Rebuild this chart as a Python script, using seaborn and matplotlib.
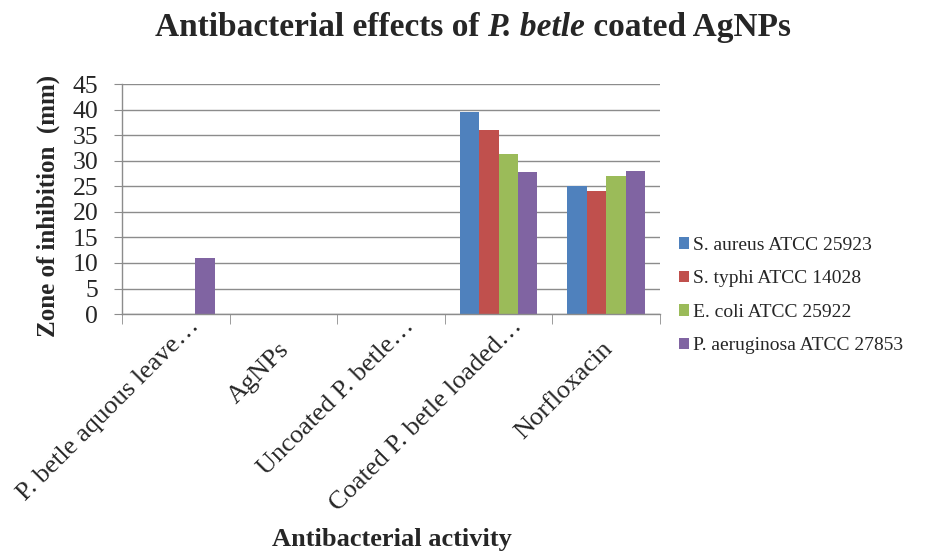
import matplotlib
matplotlib.use("Agg")
import matplotlib.pyplot as plt
import matplotlib.transforms as mtransforms
import seaborn as sns
import pandas as pd
import numpy as np
from matplotlib.ticker import MultipleLocator, FixedLocator

# data
categories = ["P. betle aquous leave\u2026", "AgNPs", "Uncoated P. betle\u2026",
              "Coated P. betle loaded\u2026", "Norfloxacin"]
s_aureus = [0, 0, 0, 39.6, 25.0]
s_typhi = [0, 0, 0, 36.1, 24.0]
e_coli = [0, 0, 0, 31.3, 27.0]
p_aeruginosa = [11.0, 0, 0, 27.8, 28.0]
series_names = ["S. aureus ATCC 25923", "S. typhi ATCC 14028",
                "E. coli ATCC 25922", "P. aeruginosa ATCC 27853"]
colors = ["#4F81BD", "#C0504D", "#9BBB59", "#8064A2"]

df = pd.DataFrame({"category": categories,
                   series_names[0]: s_aureus,
                   series_names[1]: s_typhi,
                   series_names[2]: e_coli,
                   series_names[3]: p_aeruginosa})
long_df = df.melt(id_vars="category", var_name="strain", value_name="zone")

sns.set_style("white")
plt.rcParams["font.family"] = ["Liberation Serif", "DejaVu Serif"]

fig = plt.figure(figsize=(9.34, 5.51), dpi=100)
ax = fig.add_axes([0.1306, 0.430, 0.576, 0.4175])

sns.barplot(data=long_df, x="category", y="zone", hue="strain",
            hue_order=series_names, palette=colors, width=0.72,
            saturation=1, ax=ax, linewidth=0)

ax.set_ylim(0, 45)
ax.set_xlim(-0.5, len(categories) - 0.5)
ax.yaxis.set_major_locator(MultipleLocator(5))
ax.grid(axis="y", color="#8c8c8c", linewidth=1)
ax.set_axisbelow(True)
for side in ["top", "right"]:
    ax.spines[side].set_visible(False)
for side in ["left", "bottom"]:
    ax.spines[side].set_color("#8c8c8c")
    ax.spines[side].set_linewidth(1)

ax.tick_params(axis="y", left=True, length=6, color="#8c8c8c", labelsize=18.5, pad=11)
ax.xaxis.set_minor_locator(FixedLocator(np.arange(-0.5, len(categories), 1)))
ax.tick_params(axis="x", which="minor", bottom=True, length=7, color="#8c8c8c")
ax.tick_params(axis="x", which="major", bottom=False, length=0, labelsize=19, pad=0)
ax.set_xticks(range(len(categories)))
ax.set_xticklabels(categories, rotation=45, ha="right", va="top",
                   rotation_mode="anchor")
# excel pushes the truncated (long) labels further up-right than the short ones
for lbl in ax.get_xticklabels():
    if lbl.get_text().endswith("\u2026"):
        dx, dy = 12, -1
    else:
        dx, dy = -5, -24
    shift = mtransforms.ScaledTranslation(dx / 100, dy / 100, fig.dpi_scale_trans)
    lbl.set_transform(lbl.get_transform() + shift)

ax.set_xlabel("Antibacterial activity", fontsize=19, fontweight="bold")
ax.xaxis.set_label_coords(0.42, 0.0, transform=fig.transFigure)
ax.xaxis.label.set_va("bottom")
ax.set_ylabel("Zone of inhibition  (mm)", fontsize=18, fontweight="bold")
ax.yaxis.set_label_coords(-0.115, 0.47)

ax.legend(loc="center left", bbox_to_anchor=(1.02, 0.08), frameon=False,
          fontsize=14, handlelength=0.55, handleheight=0.55, handletextpad=0.2,
          labelspacing=0.85, borderaxespad=0)

# title with the italic species name, laid out piece by piece
title_parts = [("Antibacterial effects of ", "normal"), ("P. betle", "italic"),
               (" coated AgNPs", "normal")]
renderer = fig.canvas.get_renderer()
pieces = []
for txt, style in title_parts:
    t = fig.text(0, 0, txt, fontsize=24, fontweight="bold", style=style,
                 va="baseline", ha="left")
    pieces.append(t)
widths = [p.get_window_extent(renderer).width for p in pieces]
x = 473 - sum(widths) / 2
for p, w in zip(pieces, widths):
    p.set_position((x / 934, 1 - 36 / 551))
    x += w

fig.savefig("out.png", dpi=100)
